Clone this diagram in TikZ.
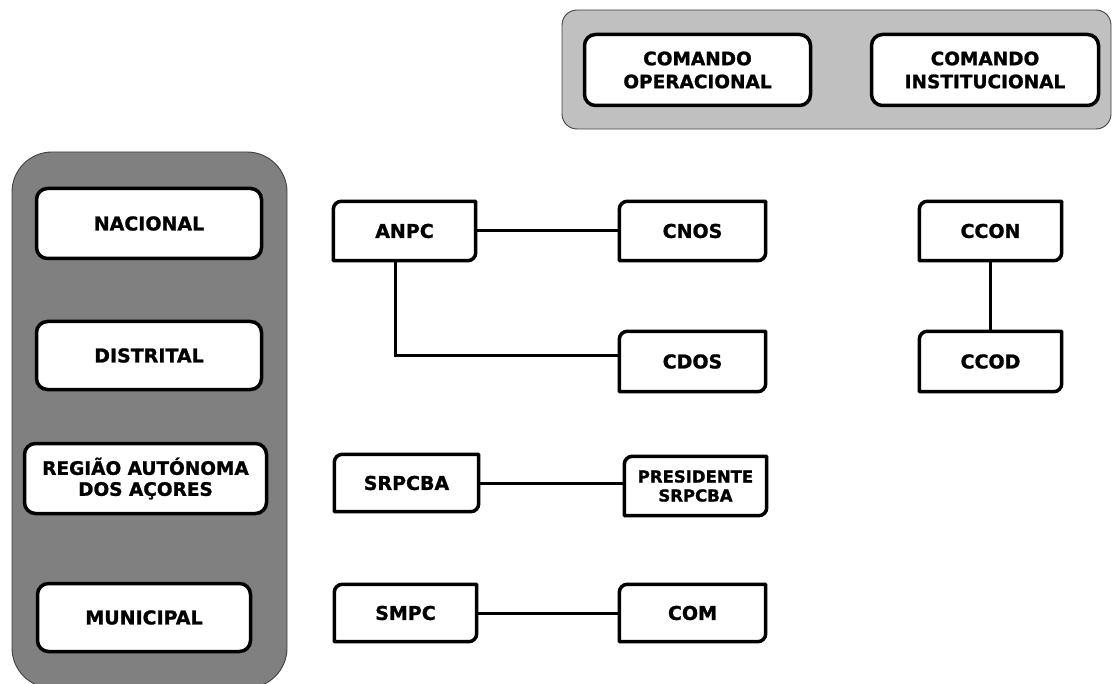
\documentclass[tikz,border=0pt]{standalone}
\usepackage{fontspec}
\setmainfont{DejaVu Sans}[BoldFeatures={FakeBold=1.2}]
\begin{document}
\begin{tikzpicture}[x=1pt,y=-1pt]
\tikzset{
  lbl/.style={font=\fontsize{19}{22}\selectfont\bfseries, align=center, inner sep=0pt},
  bigbox/.style={lbl, draw=black, line width=3.5pt, rounded corners=11pt, fill=white},
  smallbox/.style={lbl, fill=white},
  diagline/.style={draw=black, line width=3.5pt, line join=round},
  link/.style={draw=black, line width=3pt},
  panel/.style={draw=black!75, line width=0.9pt}
}
\useasboundingbox (0,0) rectangle (1113,684);
% panels
\draw[panel, fill={rgb,255:red,192;green,192;blue,192}, rounded corners=15pt] (562,10) rectangle (1111,129);
\draw[panel, fill={rgb,255:red,128;green,128;blue,128}, rounded corners=40pt] (12,152) rectangle (287,688);
% top boxes
\node[bigbox, minimum width=226pt, minimum height=71pt, font=\fontsize{18.5}{23}\selectfont\bfseries] (comop) at (697.5,70) {COMANDO\\OPERACIONAL};
\node[bigbox, minimum width=227pt, minimum height=71pt, font=\fontsize{18.5}{23}\selectfont\bfseries] (cominst) at (985,70) {COMANDO\\INSTITUCIONAL};
% level boxes
\node[bigbox, minimum width=225pt, minimum height=70pt] (nac) at (149,223.5) {NACIONAL};
\node[bigbox, minimum width=225pt, minimum height=68pt] (dist) at (149,355.5) {DISTRITAL};
\node[bigbox, minimum width=242pt, minimum height=70pt, font=\fontsize{18.5}{21}\selectfont\bfseries] (reg) at (145.5,478.5) {REGIÃO AUTÓNOMA\\DOS AÇORES};
\node[bigbox, minimum width=213pt, minimum height=68pt] (mun) at (144,617.5) {MUNICIPAL};
% small boxes
\node[smallbox, minimum width=142pt, minimum height=59pt] (anpc) at (404.5,231) {ANPC};
\node[smallbox, minimum width=146pt, minimum height=59pt] (cnos) at (692.5,231) {CNOS};
\node[smallbox, minimum width=146pt, minimum height=60pt] (cdos) at (692.5,361.5) {CDOS};
\node[smallbox, minimum width=142pt, minimum height=59pt] (ccon) at (990.5,231) {CCON};
\node[smallbox, minimum width=142pt, minimum height=60pt] (ccod) at (990.5,361.5) {CCOD};
\node[smallbox, minimum width=144pt, minimum height=57pt] (srp) at (406.5,483) {SRPCBA};
\node[smallbox, minimum width=142pt, minimum height=59pt, font=\fontsize{16.5}{19}\selectfont\bfseries] (pres) at (695.5,486) {PRESIDENTE\\SRPCBA};
\node[smallbox, minimum width=142pt, minimum height=57pt] (smpc) at (405.5,613) {SMPC};
\node[smallbox, minimum width=146pt, minimum height=57pt] (com) at (692.5,613) {COM};
\foreach \n in {anpc,cnos,cdos,ccon,ccod,srp,pres,smpc,com}{
  \draw[diagline] ([yshift=-8pt]\n.north west) arc[start angle=180,end angle=90,radius=8pt]
    -- (\n.north east) -- ([yshift=8pt]\n.south east) arc[start angle=0,end angle=-90,radius=8pt]
    -- (\n.south west) -- cycle;
}
% connectors
\coordinate (elbow) at (395,355);
\draw[link] (anpc.east) -- (cnos.west);
\draw[link] (anpc.south -| elbow) -- (elbow) -- (cdos.west |- elbow);
\draw[link] (ccon.south) -- (ccod.north);
\draw[link] (srp.east) -- (pres.west |- srp.east);
\draw[link] (smpc.east) -- (com.west);
\end{tikzpicture}
\end{document}
